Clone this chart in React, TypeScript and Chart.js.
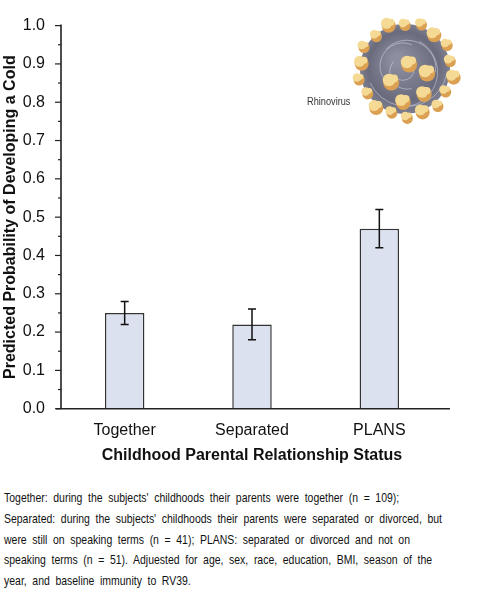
import React, { useEffect, useRef } from "react";
import { Chart, registerables } from "chart.js";

Chart.register(...registerables);

const categories = ["Together", "Separated", "PLANS"];
const probabilities = [0.25, 0.22, 0.47];
const errorLow = [0.22, 0.18, 0.42];
const errorHigh = [0.28, 0.26, 0.52];
const yMin = 0;
const yMax = 1;
const yStep = 0.05;

const captionLines = [
  "Together: during the subjects' childhoods their parents were together (n = 109);",
  "Separated: during the subjects' childhoods their parents were separated or divorced, but",
  "were still on speaking terms (n = 41); PLANS: separated or divorced and not on",
  "speaking terms (n = 51). Adjuested for age, sex, race, education, BMI, season of the",
  "year, and baseline immunity to RV39.",
];

const FONT = "'Liberation Sans', Arial, sans-serif";

const errorBarPlugin = {
  id: "errorBars",
  afterDatasetsDraw(chart: any) {
    const ctx = chart.ctx;
    const meta = chart.getDatasetMeta(0);
    const y = chart.scales.y;
    ctx.save();
    ctx.strokeStyle = "#111";
    ctx.lineWidth = 1.5;
    meta.data.forEach((bar: any, i: number) => {
      const x = bar.x;
      const yl = y.getPixelForValue(errorLow[i]);
      const yh = y.getPixelForValue(errorHigh[i]);
      ctx.beginPath();
      ctx.moveTo(x, yl);
      ctx.lineTo(x, yh);
      ctx.moveTo(x - 4, yl);
      ctx.lineTo(x + 4, yl);
      ctx.moveTo(x - 4, yh);
      ctx.lineTo(x + 4, yh);
      ctx.stroke();
    });
    ctx.restore();
  },
};

const axesPlugin = {
  id: "axesLines",
  afterDraw(chart: any) {
    const ctx = chart.ctx;
    const { left, right, top, bottom } = chart.chartArea;
    const y = chart.scales.y;
    ctx.save();
    ctx.strokeStyle = "#222";
    ctx.lineWidth = 1.6;
    ctx.beginPath();
    ctx.moveTo(left, top - 1);
    ctx.lineTo(left, bottom);
    ctx.moveTo(left - 5, bottom);
    ctx.lineTo(right + 7, bottom);
    ctx.stroke();
    ctx.lineWidth = 1.2;
    y.ticks.forEach((t: any, i: number) => {
      const py = y.getPixelForValue(t.value);
      const len = i % 2 === 0 ? 6 : 3;
      ctx.beginPath();
      ctx.moveTo(left - len, py);
      ctx.lineTo(left, py);
      ctx.stroke();
    });
    ctx.restore();
  },
};

const virusPlugin = {
  id: "virus",
  afterDraw(chart: any) {
    const ctx = chart.ctx;
    const cx = 405;
    const cy = 69;
    const r = 45;
    ctx.save();
    const g = ctx.createRadialGradient(cx - 8, cy - 10, 5, cx, cy, r);
    g.addColorStop(0, "#8d8fa0");
    g.addColorStop(0.75, "#6a6c7e");
    g.addColorStop(1, "#7d7f90");
    ctx.fillStyle = g;
    ctx.beginPath();
    ctx.arc(cx, cy, r, 0, Math.PI * 2);
    ctx.fill();
    ctx.strokeStyle = "rgba(235,235,245,0.55)";
    ctx.lineWidth = 0.8;
    for (let k = 0; k < 6; k++) {
      ctx.beginPath();
      ctx.arc(cx + (k % 2) * 4 - 2, cy + ((k + 1) % 3) * 3 - 3, r * (0.25 + k * 0.13), k * 1.3, k * 1.3 + 2.5);
      ctx.stroke();
    }
    const blob = (bx: number, by: number, s: number) => {
      ctx.fillStyle = "#dba052";
      ctx.beginPath();
      ctx.arc(bx + 1.2, by + 1.5, s, 0, Math.PI * 2);
      ctx.fill();
      ctx.fillStyle = "#f5da95";
      ctx.beginPath();
      ctx.arc(bx - 1, by - 1, s * 0.78, 0, Math.PI * 2);
      ctx.fill();
      ctx.beginPath();
      ctx.arc(bx + s * 0.5, by - s * 0.3, s * 0.5, 0, Math.PI * 2);
      ctx.fill();
    };
    for (let k = 0; k < 18; k++) {
      const a = (k / 18) * Math.PI * 2 + 0.15;
      const rr = r + (k % 2 === 0 ? 3 : 0);
      blob(cx + Math.cos(a) * rr, cy + Math.sin(a) * rr, k % 3 === 0 ? 7 : 5.5);
    }
    blob(408, 63, 8);
    blob(390, 81, 8);
    blob(426, 72, 8);
    blob(402, 101, 7.5);
    blob(423, 93, 7.5);
    ctx.restore();
  },
};

export default function App() {
  const ref = useRef<HTMLCanvasElement>(null);
  const capRef = useRef<HTMLDivElement>(null);

  useEffect(() => {
    document.body.style.margin = "0";
    const chart = new Chart(ref.current as HTMLCanvasElement, {
      type: "bar",
      data: {
        labels: categories,
        datasets: [
          {
            data: probabilities,
            backgroundColor: "#dce1f0",
            borderColor: "#333",
            borderWidth: 1.5,
            barPercentage: 0.31,
            categoryPercentage: 1,
          },
        ],
      },
      options: {
        responsive: false,
        animation: false,
        devicePixelRatio: 1,
        layout: { padding: { top: 21, right: 47, bottom: 0, left: 0 } },
        plugins: { legend: { display: false }, tooltip: { enabled: false } },
        scales: {
          x: {
            grid: { display: false, drawTicks: false },
            border: { display: false },
            ticks: {
              padding: 12,
              color: "#111",
              font: { family: FONT, size: 16 },
            },
            title: {
              display: true,
              text: "Childhood Parental Relationship Status",
              color: "#111",
              font: { family: FONT, size: 16, weight: "bold" },
              padding: { top: 0, bottom: 5 },
            },
            afterFit(scale: any) {
              scale.height = 61.3;
            },
          },
          y: {
            min: yMin,
            max: yMax,
            grid: { display: true, drawOnChartArea: false, drawTicks: false },
            border: { display: false },
            ticks: {
              stepSize: yStep,
              autoSkip: false,
              padding: 16,
              color: "#111",
              font: { family: FONT, size: 16 },
              callback: (v: any, i: number) => (i % 2 === 0 ? Number(v).toFixed(1) : ""),
            },
            title: {
              display: true,
              text: "Predicted Probability of Developing a Cold",
              color: "#111",
              font: { family: FONT, size: 16, weight: "bold" },
              padding: { top: 1, bottom: 0 },
            },
            afterFit(scale: any) {
              scale.width = 61;
            },
          },
        },
      },
      plugins: [errorBarPlugin, axesPlugin, virusPlugin],
    } as any);

    // fit caption lines to the reference's narrow typeface width
    const cap = capRef.current;
    if (cap) {
      const spans = Array.from(cap.querySelectorAll("span")) as HTMLElement[];
      const w = spans[1].getBoundingClientRect().width;
      const s = 438 / w;
      cap.style.transform = `scaleX(${s})`;
    }
    return () => chart.destroy();
  }, []);

  return (
    <div style={{ position: "absolute", left: 0, top: 0, width: 490, height: 601, background: "#fff", overflow: "hidden" }}>
      <canvas ref={ref} width={490} height={470} style={{ display: "block", width: 490, height: 470 }} />
      <div
        style={{
          position: "absolute",
          left: 307,
          top: 95,
          fontFamily: FONT,
          fontSize: 11.5,
          color: "#333",
          transform: "scaleX(0.8)",
          transformOrigin: "0 0",
          whiteSpace: "nowrap",
        }}
      >
        Rhinovirus
      </div>
      <div
        ref={capRef}
        style={{
          position: "absolute",
          left: 4,
          top: 488,
          fontFamily: FONT,
          fontSize: 13.5,
          lineHeight: "20.8px",
          wordSpacing: "3.5px",
          color: "#111",
          whiteSpace: "nowrap",
          transformOrigin: "0 0",
        }}
      >
        {captionLines.map((l, i) => (
          <div key={i}>
            <span style={{ display: "inline-block" }}>{l}</span>
          </div>
        ))}
      </div>
    </div>
  );
}
